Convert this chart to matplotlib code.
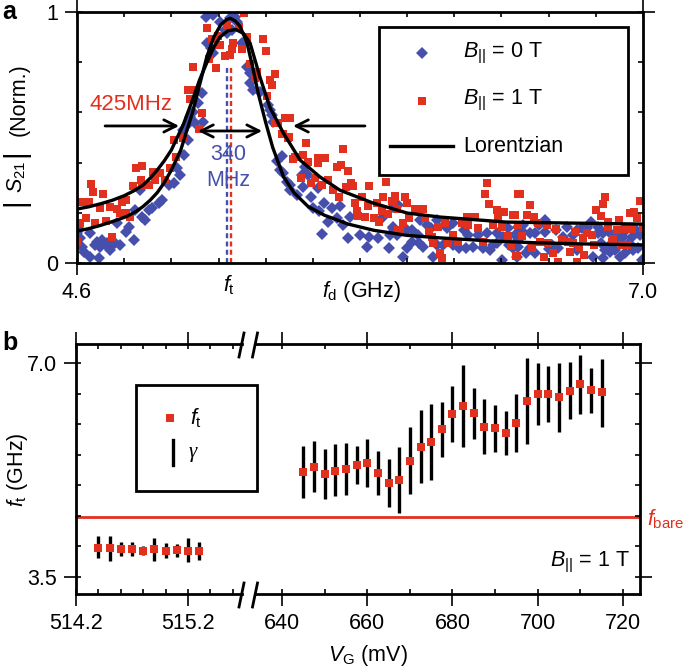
import numpy as np
import matplotlib
matplotlib.use("Agg")
import matplotlib.pyplot as plt
from matplotlib.lines import Line2D
from matplotlib.patches import Rectangle

plt.rcParams['font.family'] = ['Liberation Sans', 'DejaVu Sans']
plt.rcParams['mathtext.fontset'] = 'custom'
plt.rcParams['mathtext.rm'] = 'Liberation Sans'
plt.rcParams['mathtext.it'] = 'Liberation Sans:italic'
plt.rcParams['mathtext.bf'] = 'Liberation Sans:bold'

BLUE = '#4650ac'
RED = '#e2301f'
W, H = 685, 667

# panel a, B = 0 T
blue_pts = [(4.607,.134),(4.657,.118),(4.770,.158),(4.819,.145),(4.809,.125),(4.840,.092),(4.847,.211),(4.869,.291),
 (4.876,.182),(4.890,.171),(4.904,.211),(4.918,.218),(4.946,.238),(4.961,.251),(4.989,.311),(5.010,.318),(5.038,.351),
 (5.024,.377),(5.052,.430),(4.614,.098),(4.685,.085),(4.706,.092),(4.727,.078),(4.699,.065),(4.734,.059),(4.784,.072),
 (4.763,.078),(4.741,.052),(4.628,.045),(4.657,.025),(4.692,.019),(4.678,.072),(4.621,.065),(4.600,.118),
 (5.147,.981),(5.178,.988),(5.206,.962),(5.227,.928),(5.249,.975),(5.270,.981),(5.277,.962),(5.152,.878),(5.167,.855),
 (5.178,.835),(5.234,.918),(5.322,.782),(5.333,.756),(5.333,.716),(5.347,.689),(5.376,.683),(5.128,.676),(5.114,.636),
 (5.093,.603),(5.079,.583),(5.135,.563),(5.065,.550),(5.051,.530),(5.072,.490),(5.411,.630),(5.418,.610),(5.425,.590),
 (5.432,.563),(5.100,.556),(5.298,.875),(5.256,.928),
 (5.468,.427),(5.450,.408),(5.461,.371),(5.475,.360),(5.489,.324),(5.503,.311),(5.503,.291),(5.532,.271),(5.553,.351),
 (5.581,.351),(5.567,.384),(5.560,.304),(5.624,.298),(5.591,.262),(5.600,.218),(5.628,.209),(5.648,.238),(5.680,.218),
 (5.715,.227),(5.666,.165),(5.701,.178),(5.730,.152),(5.758,.182),(5.638,.116),(5.751,.101),(5.800,.112),(5.840,.105),
 (5.829,.065),(5.878,.099),(5.921,.059),(5.892,.178),(5.942,.138),(5.928,.112),
 (5.941,.145),(5.941,.224),(5.962,.231),(5.955,.112),(6.054,.171),(6.083,.151),(6.125,.171),(6.196,.161),(6.019,.085),
 (5.998,.058),(5.984,.022),(6.066,.065),(6.108,.022),(6.125,.072),(6.153,.072),(6.196,.072),(6.259,.112),(6.249,.058),
 (6.280,.065),(6.320,.058),(6.351,.052),(6.365,.072),(6.379,.118),(6.401,.012),(6.429,.138),(6.457,.112),(6.471,.092),
 (6.019,.131),(6.047,.112),(6.408,.105),(6.0,.13),(6.1,.14),(6.17,.14),(6.24,.13),(6.3,.11),(6.34,.12),(6.38,.08),
 (6.43,.07),(6.05,.08),(6.22,.06),
 (6.471,.145),(6.492,.151),(6.521,.118),(6.542,.118),(6.584,.171),(6.584,.125),(6.676,.145),(6.471,.062),(6.542,.038),
 (6.506,.038),(6.641,.058),(6.704,.112),(6.761,.138),(6.779,.165),(6.810,.145),(6.810,.118),(6.789,.025),(6.839,.052),
 (6.860,.045),(6.902,.022),(6.917,.105),(6.952,.105),(6.987,.112),(6.924,.038),(6.959,.052),(6.994,.012),(6.832,.018),
 (6.881,.052),(6.464,.025),(6.613,.072),(6.719,.052),(6.49,.125),(6.56,.15),(6.63,.13),(6.66,.105),(6.72,.13),(6.74,.14),
 (6.83,.12),(6.86,.12),(6.89,.11),(6.93,.13),(6.97,.13),(6.90,.09),(6.94,.08),(6.6,.055),(6.52,.06),(6.86,.07),(6.82,.08),
 (6.98,.06),(6.45,.06)]

# panel a, B = 1 T
red_pts = [(4.617,.244),(4.649,.244),(4.659,.313),(4.668,.282),(4.709,.275),(4.696,.221),(4.640,.178),(4.611,.161),
 (4.678,.161),(4.724,.169),(4.748,.102),(4.600,.082),(4.741,.222),(4.770,.214),(4.791,.244),(4.809,.251),(4.784,.198),
 (4.809,.198),(4.826,.182),(4.852,.377),(4.876,.387),(4.838,.307),(4.871,.331),(4.876,.311),(4.904,.311),(4.922,.364),
 (4.932,.331),(4.954,.357),(4.975,.331),(4.996,.377),(5.020,.424),(5.010,.490),(5.050,.497),
 (5.150,.938),(5.171,.891),(5.199,.904),(5.206,.869),(5.161,.811),(5.189,.776),(5.090,.782),(5.072,.689),(5.100,.689),
 (5.079,.652),(5.128,.596),(5.118,.534),(5.227,.825),(5.263,.875),(5.256,.851),(5.249,.829),(5.298,.851),(5.237,.948),
 (5.287,.942),(5.308,.997),(5.319,.902),(5.390,.892),(5.400,.846),(5.333,.793),(5.364,.762),(5.355,.736),(5.439,.753),
 (5.418,.729),(5.428,.709),(5.404,.665),(5.454,.556),(5.482,.576),(5.503,.576),(5.475,.514),(5.496,.497),
 (5.440,.557),(5.468,.514),(5.499,.501),(5.570,.480),(5.525,.424),(5.560,.431),(5.518,.413),(5.581,.404),(5.624,.417),
 (5.652,.417),(5.624,.397),(5.730,.454),(5.701,.384),(5.720,.391),(5.751,.368),(5.549,.338),(5.591,.318),(5.609,.338),
 (5.638,.311),(5.666,.331),(5.687,.291),(5.741,.304),(5.761,.318),(5.772,.308),(5.838,.308),(5.909,.322),(5.711,.261),
 (5.807,.261),(5.779,.241),(5.899,.261),(5.949,.267),(5.939,.247),(5.871,.241),(5.836,.227),(5.789,.209),(5.793,.188),
 (5.821,.185),(5.892,.209),(5.920,.195),(5.860,.178),(5.881,.162),(5.963,.132),
 (5.948,.264),(5.991,.264),(5.934,.248),(6.000,.238),(5.958,.214),(6.033,.214),(6.068,.214),(6.009,.178),(6.075,.178),
 (5.981,.158),(5.969,.131),(6.094,.125),(6.132,.145),(6.160,.161),(6.104,.105),(6.111,.078),(6.174,.081),(6.196,.112),
 (6.217,.085),(6.231,.158),(6.255,.185),(6.288,.185),(6.259,.151),(6.302,.138),(6.320,.085),(6.340,.320),(6.330,.275),
 (6.348,.235),(6.379,.211),(6.411,.205),(6.387,.185),(6.450,.191),(6.365,.151),(6.401,.145),(6.471,.275),(6.429,.109),
 (6.440,.068),(6.460,.028),(6.139,.038),(6.149,.021),(6.471,.151),
 (6.478,.275),(6.521,.231),(6.457,.191),(6.509,.191),(6.539,.185),(6.556,.158),(6.591,.151),(6.630,.135),(6.712,.125),
 (6.488,.109),(6.563,.085),(6.598,.078),(6.655,.092),(6.683,.085),(6.704,.078),(6.728,.065),(6.747,.098),(6.761,.118),
 (6.785,.112),(6.792,.072),(6.530,.058),(6.620,.038),(6.690,.045),(6.581,.022),(6.750,.032),(6.464,.028),(6.719,.005),
 (6.641,.005),(6.839,.262),(6.829,.234),(6.801,.211),(6.820,.187),(6.850,.165),(6.900,.171),(6.945,.200),(6.962,.205),
 (6.987,.248),(6.973,.178),(6.853,.145),(6.888,.131),(6.924,.134),(6.952,.134),(6.874,.096),(6.867,.085),(6.910,.072),
 (6.931,.072),(7.000,.138)]

# lorentzian curves
fit0_x = [4.6,4.65,4.7,4.75,4.81,4.85,4.88,4.91,4.94,4.97,5.0,5.04,5.09,5.12,5.15,5.18,5.21,5.235,5.25,5.27,5.29,5.32,5.345,5.37,5.40,5.43,5.475,5.52,5.58,5.65,5.75,5.86,6.0,6.14,6.35,6.56,6.8,7.0]
fit0_y = [.127,.137,.15,.165,.185,.205,.225,.25,.28,.32,.37,.45,.60,.71,.82,.90,.95,.97,.975,.965,.945,.88,.78,.67,.56,.46,.345,.28,.225,.19,.155,.13,.11,.10,.088,.08,.075,.072]
fit1_x = [4.6,4.65,4.7,4.75,4.8,4.84,4.88,4.91,4.94,4.97,5.0,5.05,5.09,5.12,5.15,5.18,5.206,5.24,5.274,5.305,5.334,5.376,5.418,5.475,5.546,5.63,5.715,5.855,6.0,6.14,6.42,6.7,7.0]
fit1_y = [.215,.224,.236,.25,.268,.287,.31,.338,.37,.407,.45,.55,.65,.73,.797,.86,.90,.925,.93,.915,.876,.74,.62,.518,.41,.343,.29,.239,.199,.183,.163,.159,.155]

f_peak0, f_peak1 = 5.235, 5.254

# panel b
vg_left = [514.4,514.5,514.6,514.7,514.8,514.9,515.0,515.1,515.2,515.3]
ft_left = [3.98,3.974,3.963,3.958,3.93,3.953,3.93,3.947,3.93,3.93]
hi_left = [4.165,4.176,4.07,4.07,4.0,4.143,4.06,4.045,4.14,4.07]
lo_left = [3.805,3.767,3.85,3.838,3.865,3.762,3.816,3.833,3.74,3.784]

vg_right = [645,647.5,650,652.5,655,657.5,660,662.5,665,667.5,670,672.5,675,677.5,680,682.5,685,687.5,690,692.5,695,697.5,700,702.5,705,707.5,710,712.5,715]
ft_right = [5.22,5.30,5.19,5.24,5.26,5.33,5.37,5.20,5.04,5.09,5.40,5.63,5.71,5.92,6.17,6.30,6.18,5.96,5.93,5.855,6.02,6.38,6.49,6.49,6.44,6.55,6.65,6.56,6.52]
hi_right = [5.65,5.72,5.60,5.675,5.69,5.64,5.76,5.555,5.43,5.62,5.95,6.23,6.335,6.37,6.62,6.97,6.59,6.41,6.31,6.215,6.50,7.09,7.0,6.945,7.005,7.01,7.136,6.92,7.06]
lo_right = [4.79,4.89,4.775,4.82,4.835,5.02,4.98,4.84,4.65,4.55,4.86,5.03,5.09,5.47,5.71,5.63,5.76,5.52,5.55,5.495,5.55,5.67,5.98,6.035,5.87,6.08,6.17,6.19,5.96]
f_bare = 4.485


def box(x0, y0, x1, y1):
    # axes rectangle from pixels, y counted from the top
    return [x0 / W, 1 - y1 / H, (x1 - x0) / W, (y1 - y0) / H]


def fx(x):
    return x / W


def fy(y):
    return 1 - y / H


def fig_line(xs, ys, **kw):
    fig.add_artist(Line2D([fx(x) for x in xs], [fy(y) for y in ys], transform=fig.transFigure, **kw))


def fig_box(x0, y0, x1, y1, lw):
    fig.add_artist(Rectangle((fx(x0), fy(y1)), (x1 - x0) / W, (y1 - y0) / H, transform=fig.transFigure,
                             facecolor='white', edgecolor='black', linewidth=lw, zorder=3))


def fig_text(x, y, s, **kw):
    kw.setdefault('fontsize', FS)
    kw.setdefault('va', 'center')
    kw.setdefault('zorder', 5)
    fig.text(fx(x), fy(y), s, **kw)


def style_ticks(ax):
    ax.xaxis.remove_overlapping_locs = False
    ax.yaxis.remove_overlapping_locs = False
    ax.tick_params(which='major', direction='out', length=8.6, width=1.2, labelsize=FS, pad=5)
    ax.tick_params(which='minor', direction='in', length=3.4, width=1.2)
    for s in ax.spines.values():
        s.set_linewidth(LW)


FS = 15.5
LW = 2.0

fig = plt.figure(figsize=(W / 100, H / 100), dpi=100)

# ---- panel a
ax = fig.add_axes(box(77, 12, 643, 263))
ax.set_xlim(4.6, 7.0)
ax.set_ylim(0, 1)
ax.plot([f_peak0, f_peak0], [0, .79], color=BLUE, lw=1.7, dashes=(2.1, 1.4), zorder=1)
ax.plot([f_peak1, f_peak1], [0, .79], color=RED, lw=1.7, dashes=(2.1, 1.4), zorder=1)
ax.plot([p[0] for p in blue_pts], [p[1] for p in blue_pts], 'D', color=BLUE, ms=6, mew=0, zorder=1.5)
ax.plot([p[0] for p in red_pts], [p[1] for p in red_pts], 's', color=RED, ms=6.1, mew=0, zorder=1.6)
ax.plot(fit0_x, fit0_y, color='black', lw=2.4, zorder=2)
ax.plot(fit1_x, fit1_y, color='black', lw=2.4, zorder=2)
ax.set_xticks([4.6, 7.0])
ax.set_xticklabels(['4.6', '7.0'])
ax.set_xticks(np.arange(4.6, 7.01, 0.2), minor=True)
ax.set_yticks([0, 1])
ax.set_yticklabels(['0', '1'])
ax.set_yticks(np.arange(0, 1.01, 0.2), minor=True)
ax.tick_params(which='both', top=True, right=True)
style_ticks(ax)

arrow = dict(color='black', lw=2, mutation_scale=22, shrinkA=0, shrinkB=0)
ax.annotate('', xy=(5.033, .546), xytext=(4.719, .546), arrowprops=dict(arrowstyle='->', **arrow), zorder=4)
ax.annotate('', xy=(5.516, .546), xytext=(5.821, .546), arrowprops=dict(arrowstyle='->', **arrow), zorder=4)
ax.annotate('', xy=(5.385, .526), xytext=(5.113, .526), arrowprops=dict(arrowstyle='<->', **arrow), zorder=4)

fig_text(131, 105, '425MHz', color=RED, ha='center', fontsize=16)
fig_text(228, 154, '340', color=BLUE, ha='center')
fig_text(228, 181, 'MHz', color=BLUE, ha='center')
fig_text(229, 285, r'$f_{\mathrm{t}}$', ha='center')
fig_text(361, 291, r'$f_{\mathrm{d}}$ (GHz)', ha='center')
# |S21| (Norm.), the bars are taller than the letters
fig_text(15, 202, '|', rotation=90, ha='center', fontsize=21, fontweight='light')
fig_text(17, 177, r'$S_{21}$', rotation=90, ha='center')
fig_text(15, 153, '|', rotation=90, ha='center', fontsize=21, fontweight='light')
fig_text(19, 100, '(Norm.)', rotation=90, ha='center')
fig_text(2, 12, 'a', fontweight='bold', fontsize=18)

fig_box(379, 27, 628, 175, 2.0)
fig.add_artist(Line2D([fx(422)], [fy(53)], marker='D', ms=6, color=BLUE, mew=0, ls='', transform=fig.transFigure, zorder=4))
fig.add_artist(Line2D([fx(422)], [fy(101)], marker='s', ms=6.1, color=RED, mew=0, ls='', transform=fig.transFigure, zorder=4))
fig_line([390, 453], [146, 146], color='black', lw=2.4, zorder=4)
fig_text(463, 53, r'$B_{||}$ = 0 T')
fig_text(463, 100, r'$B_{||}$ = 1 T')
fig_text(463, 146, 'Lorentzian')

# ---- panel b, axis broken in two
ylim_b = (3.222, 7.311)
ax_l = fig.add_axes(box(76, 344, 241.5, 594))
ax_r = fig.add_axes(box(255, 344, 640, 594))
ax_l.set_xlim(514.2, 515.678)
ax_r.set_xlim(633.66, 724.0)

ax_l.axhline(f_bare, xmax=1.09, color=RED, lw=2, clip_on=False, zorder=1)
ax_r.axhline(f_bare, color=RED, lw=2, zorder=1)

for a, v, ft, lo, hi in [(ax_l, vg_left, ft_left, lo_left, hi_left), (ax_r, vg_right, ft_right, lo_right, hi_right)]:
    a.set_ylim(*ylim_b)
    a.vlines(v, lo, hi, color='black', lw=2.4, zorder=2)
    a.plot(v, ft, 's', color=RED, ms=5.9, mew=0, zorder=3)
    a.set_yticks([3.5, 7.0])
    a.set_yticks(np.arange(3.5, 7.01, 0.5), minor=True)
    a.tick_params(which='both', top=True)
    style_ticks(a)

ax_l.spines['right'].set_visible(False)
ax_r.spines['left'].set_visible(False)
ax_l.set_yticklabels(['3.5', '7.0'])
ax_l.tick_params(which='both', right=False)
ax_r.tick_params(which='both', left=False, labelleft=False, right=True)

ax_l.set_xticks([514.2, 515.2])
ax_l.set_xticklabels(['514.2', '515.2'])
ax_l.set_xticks(np.arange(514.2, 515.61, 0.2), minor=True)
ax_r.set_xticks([640, 660, 680, 700, 720])
ax_r.set_xticks(np.arange(640, 721, 10), minor=True)

# break marks
for y in (345, 595):
    for x in (241.5, 255):
        fig_line([x - 2.5, x + 2.5], [y + 12, y - 12], color='black', lw=2, zorder=4)

fig_text(2, 343, 'b', fontweight='bold', fontsize=18)
fig_text(17, 470, r'$f_{\mathrm{t}}$ (GHz)', rotation=90, ha='center')
fig_text(368, 655, r'$V_{\mathrm{G}}$ (mV)', ha='center')
fig_text(647, 519, r'$f_{\mathrm{bare}}$', color=RED, fontsize=15.5)
fig_text(550, 562, r'$B_{||}$ = 1 T')

fig_box(136, 385, 257, 491, 2.0)
fig.add_artist(Line2D([fx(170)], [fy(418)], marker='s', ms=5.9, color=RED, mew=0, ls='', transform=fig.transFigure, zorder=4))
fig_text(190, 418, r'$f_{\mathrm{t}}$', fontsize=15.5)
fig_line([173, 173], [440, 465], color='black', lw=2.4, zorder=4)
fig_text(189, 453, 'γ', fontsize=15, family='Liberation Serif', style='italic')

fig.savefig('out.png', dpi=100)
